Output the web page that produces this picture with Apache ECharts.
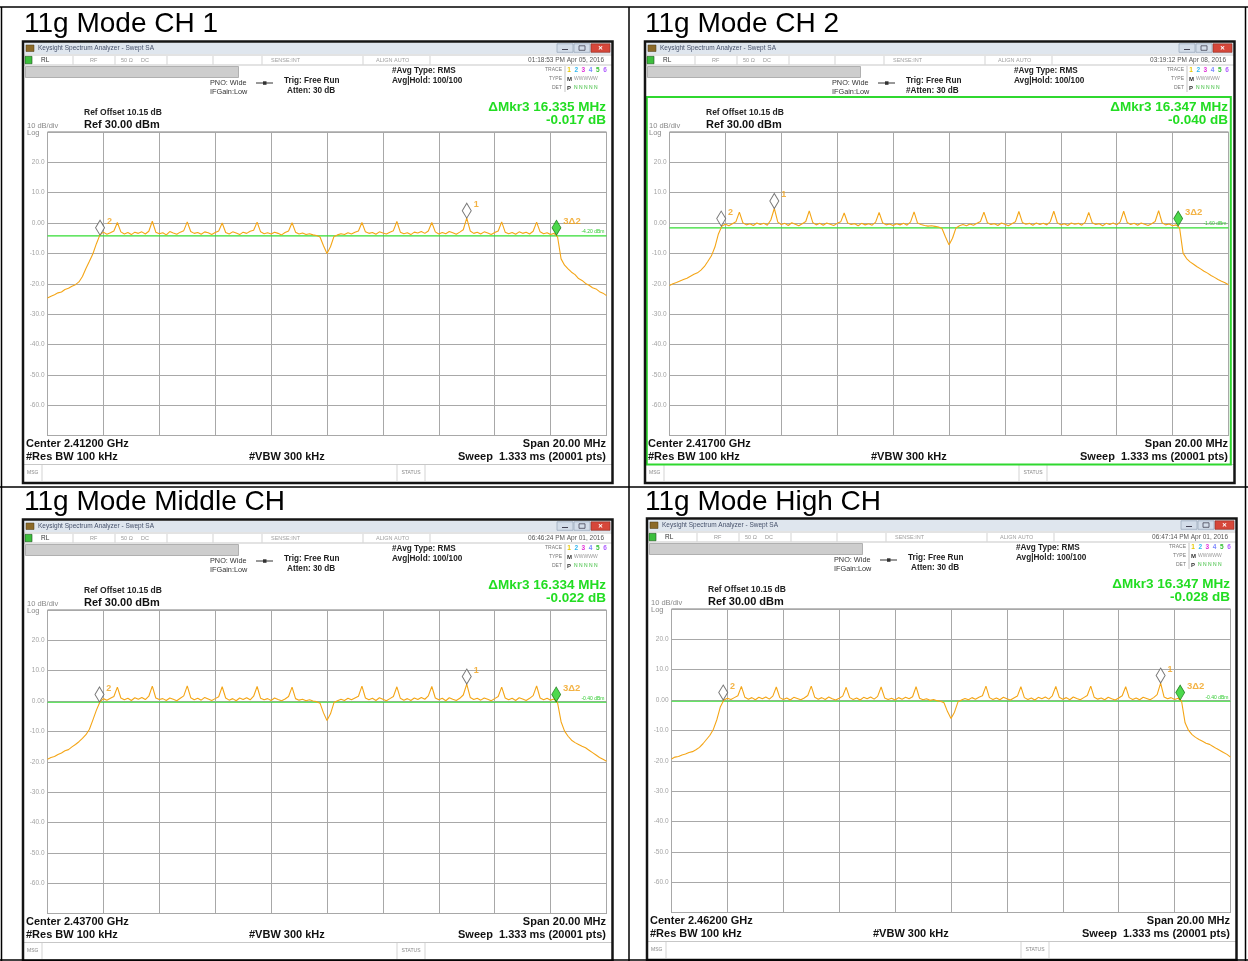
<!DOCTYPE html>
<html><head><meta charset="utf-8">
<script src="https://cdn.jsdelivr.net/npm/echarts@6/dist/echarts.min.js"></script>
<style>html,body{margin:0;padding:0;background:#fff}#c{width:1248px;height:961px}</style>
</head><body><div id="c"></div>
<script>
// ---------- DATA ----------
const panelTitles = ['11g Mode CH 1', '11g Mode CH 2', '11g Mode Middle CH', '11g Mode High CH'];
const centerLabels = ['Center 2.41200 GHz', 'Center 2.41700 GHz', 'Center 2.43700 GHz', 'Center 2.46200 GHz'];
const deltaFreqLabels = ['ΔMkr3 16.335 MHz', 'ΔMkr3 16.347 MHz', 'ΔMkr3 16.334 MHz', 'ΔMkr3 16.347 MHz'];
const deltaLevelLabels = ['-0.017 dB', '-0.040 dB', '-0.022 dB', '-0.028 dB'];
const timestamps = ['01:18:53 PM Apr 05, 2016', '03:19:12 PM Apr 08, 2016', '06:46:24 PM Apr 01, 2016', '06:47:14 PM Apr 01, 2016'];
const attenLabels = ['Atten: 30 dB', '#Atten: 30 dB', 'Atten: 30 dB', 'Atten: 30 dB'];
const markerNames = ['1', '2', '3Δ2'];

// frequency offset from center, MHz (span 20 MHz)
const freq = [
  -10,-9.875,-9.75,-9.625,-9.5,-9.375,-9.25,-9.125,
  -9,-8.875,-8.75,-8.625,-8.5,-8.375,-8.25,-8.125,
  -8,-7.875,-7.75,-7.625,-7.5,-7.375,-7.25,-7.125,
  -7,-6.875,-6.75,-6.625,-6.5,-6.375,-6.25,-6.125,
  -6,-5.875,-5.75,-5.625,-5.5,-5.375,-5.25,-5.125,
  -5,-4.875,-4.75,-4.625,-4.5,-4.375,-4.25,-4.125,
  -4,-3.875,-3.75,-3.625,-3.5,-3.375,-3.25,-3.125,
  -3,-2.875,-2.75,-2.625,-2.5,-2.375,-2.25,-2.125,
  -2,-1.875,-1.75,-1.625,-1.5,-1.375,-1.25,-1.125,
  -1,-0.875,-0.75,-0.625,-0.5,-0.375,-0.25,-0.125,
  0,0.125,0.25,0.375,0.5,0.625,0.75,0.875,
  1,1.125,1.25,1.375,1.5,1.625,1.75,1.875,
  2,2.125,2.25,2.375,2.5,2.625,2.75,2.875,
  3,3.125,3.25,3.375,3.5,3.625,3.75,3.875,
  4,4.125,4.25,4.375,4.5,4.625,4.75,4.875,
  5,5.125,5.25,5.375,5.5,5.625,5.75,5.875,
  6,6.125,6.25,6.375,6.5,6.625,6.75,6.875,
  7,7.125,7.25,7.375,7.5,7.625,7.75,7.875,
  8,8.125,8.25,8.375,8.5,8.625,8.75,8.875,
  9,9.125,9.25,9.375,9.5,9.625,9.75,9.875,
  10
];

// trace levels, dBm
const traceCH1 = [
  -24.7,-24.1,-23.6,-23.0,-22.7,-21.9,-21.5,-20.8,-20.3,-19.4,
  -17.6,-15.0,-12.6,-10.1,-6.8,-3.9,-3.0,-3.7,-3.2,-2.6,
  0.2,-2.9,-3.6,-3.1,-3.8,-3.0,-3.4,-2.9,-3.6,-2.7,
  0.6,-3.0,-3.5,-3.2,-3.9,-2.8,-3.3,-3.7,-3.0,-2.5,
  0.4,-2.8,-3.4,-3.1,-3.7,-2.9,-3.2,-3.8,-3.1,-2.6,
  0.0,-3.1,-3.6,-2.9,-3.3,-3.8,-3.0,-3.4,-2.7,-2.4,
  0.3,-2.9,-3.5,-3.2,-3.6,-3.0,-3.4,-3.9,-3.1,-2.6,
  0.1,-3.0,-3.6,-3.3,-3.8,-3.5,-3.9,-4.1,-4.6,-7.5,
  -10.0,-7.8,-4.4,-3.9,-3.5,-3.8,-3.2,-3.6,-3.0,-2.6,
  0.2,-2.9,-3.4,-3.1,-3.7,-2.9,-3.3,-3.6,-3.0,-2.5,
  0.5,-3.0,-3.5,-3.2,-3.8,-3.0,-3.3,-2.8,-3.4,-2.6,
  0.2,-2.9,-3.6,-3.1,-3.5,-2.8,-3.2,-3.7,-3.0,-2.2,
  1.6,-2.6,-3.4,-3.0,-3.6,-2.9,-3.3,-3.8,-3.1,-2.6,
  0.4,-3.0,-3.5,-3.1,-3.7,-2.9,-3.4,-3.0,-3.6,-2.7,
  0.3,-2.9,-3.5,-3.2,-3.8,-3.4,-4.6,-11.8,-13.9,-15.1,
  -16.2,-17.0,-18.3,-18.9,-19.9,-20.5,-21.3,-21.7,-22.6,-23.1,
  -23.9
];
const traceCH2 = [
  -20.6,-20.0,-19.6,-19.1,-18.6,-18.2,-17.5,-16.9,-16.4,-15.5,
  -14.3,-12.6,-10.8,-7.9,-3.6,-1.0,-0.4,-0.9,-0.2,0.4,
  3.6,0.1,-0.6,-0.2,-0.8,0.0,-0.5,-0.1,-0.7,1.0,
  4.8,0.3,-0.5,-0.1,-0.8,0.1,-0.4,-0.9,-0.2,0.5,
  4.0,0.2,-0.6,-0.1,-0.7,0.0,-0.4,-0.8,-0.1,0.4,
  3.3,0.0,-0.5,-0.2,-0.9,-0.1,-0.6,-0.2,-0.7,0.3,
  3.5,0.1,-0.6,-0.3,-0.8,-0.2,-0.6,-0.1,-0.7,0.4,
  3.7,0.0,-0.5,-0.8,-1.0,-0.9,-1.1,-1.3,-1.8,-4.6,
  -7.2,-5.0,-1.6,-0.9,-0.5,-0.9,-0.3,-0.7,-0.1,0.5,
  3.6,0.1,-0.5,-0.2,-0.8,0.0,-0.4,-0.9,-0.2,0.4,
  3.8,0.2,-0.4,-0.1,-0.7,0.0,-0.5,-0.1,-0.6,0.5,
  3.9,0.1,-0.6,-0.2,-0.8,0.0,-0.4,-0.1,-0.7,0.3,
  3.5,0.1,-0.5,-0.2,-0.9,-0.1,-0.5,0.0,-0.6,0.4,
  3.9,0.2,-0.5,-0.1,-0.7,0.0,-0.4,-0.8,-0.2,0.5,
  4.1,0.1,-0.6,-0.3,-0.9,-0.6,-1.6,-9.9,-11.7,-12.8,
  -13.6,-14.4,-15.1,-15.9,-16.5,-17.3,-17.9,-18.6,-19.2,-19.7,
  -20.3
];
const traceMid = [
  -19.2,-18.6,-18.3,-17.6,-17.1,-16.4,-16.0,-15.1,-14.3,-13.4,
  -12.3,-11.1,-9.3,-6.2,-3.0,-0.3,0.8,0.3,0.9,1.5,
  4.6,1.0,0.4,0.9,0.2,1.1,0.6,1.2,0.5,1.6,
  4.9,1.0,0.5,0.8,0.2,1.0,0.6,0.1,0.9,1.7,
  5.0,1.1,0.4,0.9,0.3,1.2,0.7,0.2,0.8,1.4,
  4.7,1.0,0.3,0.8,0.1,1.0,0.5,1.1,0.4,1.6,
  4.8,0.9,0.4,0.8,0.2,1.0,0.5,0.1,0.7,1.5,
  4.6,0.8,0.3,0.6,0.1,0.4,0.0,-0.2,-0.7,-3.9,
  -6.4,-4.2,-0.5,0.1,0.6,0.2,0.9,0.4,1.0,1.6,
  4.9,1.0,0.4,0.9,0.2,1.1,0.6,0.1,0.8,1.5,
  4.7,0.9,0.3,0.8,0.2,1.0,0.5,1.2,0.6,1.7,
  4.8,1.0,0.4,0.9,0.1,1.1,0.6,0.2,0.9,2.0,
  5.6,1.2,0.5,0.9,0.3,1.0,0.6,0.1,0.8,1.5,
  4.6,1.0,0.4,0.9,0.2,1.1,0.7,0.2,0.9,1.8,
  5.0,1.0,0.4,0.9,0.3,0.7,-0.6,-6.8,-9.9,-11.6,
  -12.9,-13.7,-14.3,-14.9,-15.4,-16.2,-17.0,-17.8,-18.6,-19.2,
  -19.8
];
const traceHigh = [
  -19.4,-18.8,-18.6,-18.1,-17.8,-17.3,-17.0,-16.4,-15.6,-14.4,
  -13.0,-11.6,-9.6,-6.4,-2.2,0.0,0.6,0.2,0.8,1.4,
  4.5,0.9,0.3,0.8,0.1,0.9,0.4,1.0,0.3,1.3,
  4.3,0.8,0.2,0.7,0.0,0.9,0.5,0.1,0.7,1.5,
  4.6,0.9,0.3,0.8,0.2,1.0,0.4,0.0,0.6,1.3,
  4.2,0.8,0.2,0.7,0.0,0.9,0.4,1.0,0.3,1.2,
  4.3,0.7,0.2,0.6,0.0,0.8,0.3,0.9,0.4,1.1,
  4.4,0.6,0.1,0.4,-0.1,0.2,-0.2,-0.4,-0.9,-3.8,
  -6.1,-4.0,-0.6,0.0,0.5,0.1,0.8,0.3,0.9,1.4,
  4.6,0.8,0.2,0.7,0.1,0.9,0.4,0.0,0.7,1.3,
  4.4,0.8,0.2,0.7,0.0,0.9,0.4,1.0,0.3,1.4,
  4.5,0.9,0.3,0.8,0.1,1.0,0.5,0.1,0.8,1.5,
  4.6,0.9,0.3,0.7,0.1,0.9,0.4,0.0,0.7,1.4,
  4.4,0.8,0.2,0.7,0.1,0.9,0.5,0.1,0.8,1.8,
  5.6,1.0,0.4,0.8,0.2,0.6,-0.4,-7.5,-10.0,-11.4,
  -12.3,-13.0,-13.6,-14.2,-14.6,-15.3,-16.0,-16.6,-17.3,-17.9,
  -18.8
];
const traces = [traceCH1, traceCH2, traceMid, traceHigh];

// markers 1, 2, 3 : frequency offset (MHz) and level (dBm)
const markerFreqCH1 = [5.0, -8.12, 8.21];
const markerLevelCH1 = [1.6, -4.0, -4.0];
const markerFreqCH2 = [-6.25, -8.15, 8.20];
const markerLevelCH2 = [4.8, -1.0, -1.0];
const markerFreqMid = [5.0, -8.14, 8.20];
const markerLevelMid = [5.6, -0.3, -0.3];
const markerFreqHigh = [7.5, -8.15, 8.20];
const markerLevelHigh = [5.6, 0.0, 0.0];
const markerFreqs = [markerFreqCH1, markerFreqCH2, markerFreqMid, markerFreqHigh];
const markerLevels = [markerLevelCH1, markerLevelCH2, markerLevelMid, markerLevelHigh];

// display line level (dBm)
const displayLine = [-4.2, -1.6, -0.4, -0.4];

// y axis (10 dB/div, ref 30 dBm)
const yMin = -70, yMax = 30, yStep = 10;
const xMin = -10, xMax = 10, xStep = 2;

// ---------- LAYOUT ----------
const origins = [[0, 0], [622, 0], [0, 478], [624, 477]];
const titlePos = [[24, 24], [645, 24], [24, 502], [645, 502]];
const FONT = '"Liberation Sans", Arial, Helvetica, sans-serif';
const fnt = (s, b) => (b ? 'bold ' : '') + s + 'px ' + FONT;

const graphics = [];
function T(x, y, t, font, fill, align, z) {
  graphics.push({type: 'text', x, y, z: z || 10, silent: true,
    style: {text: t, font, fill, textAlign: align || 'left', align: align || 'left',
            textVerticalAlign: 'middle', verticalAlign: 'middle'}});
}
function R(x, y, w, h, fill, stroke, lw, z) {
  graphics.push({type: 'rect', z: z || 5, silent: true, shape: {x, y, width: w, height: h},
    style: {fill: fill || 'none', stroke: stroke || 'none', lineWidth: lw || 1}});
}
function L(x1, y1, x2, y2, stroke, lw, z) {
  graphics.push({type: 'line', z: z || 6, silent: true, shape: {x1, y1, x2, y2},
    style: {stroke, lineWidth: lw || 1}});
}

// table lines
L(0, 7, 1248, 7, '#000', 1.5, 20);
L(0, 487, 1248, 487, '#000', 1.5, 20);
L(0, 960, 1248, 960, '#000', 1.5, 20);
L(1.5, 7, 1.5, 961, '#000', 1.5, 20);
L(629, 7, 629, 961, '#000', 1.5, 20);
L(1245.5, 7, 1245.5, 961, '#000', 1.5, 20);

panelTitles.forEach((t, p) => T(titlePos[p][0], titlePos[p][1], t, fnt(28), '#000'));

const traceDigitColors = ['#e8c800', '#30b8f0', '#e030d8', '#7a86ff', '#34c034', '#b060ff'];

function panelChrome(p) {
  const [ox, oy] = origins[p];
  const X = v => ox + v, Y = v => oy + v;
  // window frame
  R(X(24.3), Y(42.8), 587, 11.2, '#dfe6ee', null, 1, 4);
  R(X(23), Y(41.5), 589.5, 441.5, 'none', '#141414', 2.5, 8);
  // title bar
  R(X(26), Y(45), 8, 6.5, '#8c6a28', '#4a3a10', 0.5);
  T(X(38), Y(48.5), 'Keysight Spectrum Analyzer - Swept SA', fnt(6.5), '#45506a');
  R(X(557), Y(43.8), 16, 8.5, '#d3dde9', '#8a9bb0', 0.6);
  R(X(574), Y(43.8), 16, 8.5, '#d3dde9', '#8a9bb0', 0.6);
  R(X(591), Y(43.8), 19, 8.5, '#d6473a', '#8a2a20', 0.6);
  L(X(562), Y(49.5), X(568), Y(49.5), '#445', 1);
  R(X(579), Y(45.8), 6, 4.5, 'none', '#445', 0.8);
  T(X(600.5), Y(48.2), '✕', fnt(6, true), '#fff', 'center');
  // status row
  L(X(24), Y(55), X(612), Y(55), '#b9b9b9', 0.8);
  L(X(24), Y(65), X(612), Y(65), '#b9b9b9', 0.8);
  R(X(25), Y(56.3), 7, 7.5, '#3cbf3c', '#1f4f1f', 0.6);
  T(X(41), Y(60.2), 'RL', fnt(6.5), '#333');
  [73, 115, 167, 213, 262, 363, 430].forEach(x => L(X(x), Y(56), X(x), Y(64.5), '#c8c8c8', 0.8));
  T(X(90), Y(60.2), 'RF', fnt(5.5), '#999');
  T(X(121), Y(60.2), '50 Ω', fnt(5.5), '#999');
  T(X(141), Y(60.2), 'DC', fnt(5.5), '#999');
  T(X(271), Y(60.2), 'SENSE:INT', fnt(5.5), '#a0a0a0');
  T(X(376), Y(60.2), 'ALIGN AUTO', fnt(5.5), '#a0a0a0');
  T(X(604), Y(60.2), timestamps[p], fnt(6.5), '#555', 'right');
  // message bar
  R(X(25.5), Y(66.5), 213, 11, '#cdcdcd', '#a2a2a2', 0.8);
  // settings
  T(X(210), Y(83), 'PNO: Wide', fnt(7.3), '#333');
  T(X(210), Y(92), 'IFGain:Low', fnt(7.3), '#333');
  L(X(256), Y(83), X(273), Y(83), '#333', 1);
  R(X(263), Y(81.3), 3.5, 3.5, '#333', null, 1);
  T(X(284), Y(80.5), 'Trig: Free Run', fnt(8.2, true), '#222');
  T(X(p === 1 ? 284 : 287), Y(91), attenLabels[p], fnt(8.2, true), '#222');
  T(X(392), Y(70.5), '#Avg Type: RMS', fnt(8.2, true), '#222');
  T(X(392), Y(81), 'Avg|Hold: 100/100', fnt(8.2, true), '#222');
  T(X(562), Y(70), 'TRACE', fnt(5), '#777', 'right');
  T(X(562), Y(79), 'TYPE', fnt(5), '#777', 'right');
  T(X(562), Y(88), 'DET', fnt(5), '#777', 'right');
  L(X(565), Y(66), X(565), Y(92), '#aaa', 0.7);
  traceDigitColors.forEach((c, k) => T(X(569 + k * 7.2), Y(70), String(k + 1), fnt(6.5, true), c, 'center'));
  T(X(567), Y(79), 'M', fnt(6, true), '#333');
  T(X(574), Y(79), 'WWWWW', fnt(5), '#999');
  T(X(567), Y(88), 'P', fnt(6, true), '#333');
  T(X(574), Y(88), 'N N N N N', fnt(5), '#33bb33');
  // reference info
  T(X(84), Y(113), 'Ref Offset 10.15 dB', fnt(8.5, true), '#222');
  T(X(84), Y(124.5), 'Ref 30.00 dBm', fnt(11, true), '#111');
  T(X(27), Y(126), '10 dB/div', fnt(7.5), '#8a8a8a');
  T(X(27), Y(132.5), 'Log', fnt(7.5), '#8a8a8a');
  // marker readout
  T(X(606), Y(107), deltaFreqLabels[p], fnt(13.5, true), '#22dd22', 'right');
  T(X(606), Y(120.5), deltaLevelLabels[p], fnt(13.5, true), '#22dd22', 'right');
  // bottom annotations
  T(X(26), Y(443.5), centerLabels[p], fnt(11, true), '#111');
  T(X(26), Y(456.5), '#Res BW 100 kHz', fnt(11, true), '#111');
  T(X(249), Y(456.5), '#VBW 300 kHz', fnt(11, true), '#111');
  T(X(606), Y(443.5), 'Span 20.00 MHz', fnt(11, true), '#111', 'right');
  T(X(606), Y(456.5), 'Sweep  1.333 ms (20001 pts)', fnt(11, true), '#111', 'right');
  // MSG / STATUS bar
  L(X(24), Y(464.5), X(612), Y(464.5), '#b9b9b9', 0.8);
  L(X(42), Y(465), X(42), Y(481), '#c8c8c8', 0.8);
  L(X(397), Y(465), X(397), Y(481), '#c8c8c8', 0.8);
  L(X(425), Y(465), X(425), Y(481), '#c8c8c8', 0.8);
  T(X(27), Y(473), 'MSG', fnt(5), '#888');
  T(X(411), Y(473), 'STATUS', fnt(5), '#888', 'center');
  if (p === 1) R(X(24.8), Y(97), 584, 367.5, 'none', '#2fd82f', 2, 7);
}
[0, 1, 2, 3].forEach(panelChrome);

// ---------- CHART ----------
const grids = [], xAxes = [], yAxes = [], series = [];
origins.forEach(([ox, oy], p) => {
  grids.push({left: ox + 47.5, top: oy + 132, width: 559, height: 303.5, show: true,
              borderColor: '#7b7b7b', borderWidth: 1, backgroundColor: 'rgba(0,0,0,0)'});
  xAxes.push({type: 'value', gridIndex: p, min: xMin, max: xMax, interval: xStep,
    axisLine: {show: false}, axisTick: {show: false}, axisLabel: {show: false},
    splitLine: {show: true, lineStyle: {color: '#a8a8a8', width: 1}}});
  yAxes.push({type: 'value', gridIndex: p, min: yMin, max: yMax, interval: yStep,
    axisLine: {show: false}, axisTick: {show: false},
    axisLabel: {color: '#a3a3a3', fontSize: 6.5, fontFamily: FONT, margin: 3,
      formatter: v => (v === yMax || v === yMin) ? '' : (v === 0 ? '0.00' : v.toFixed(1))},
    splitLine: {show: true, lineStyle: {color: '#a8a8a8', width: 1}}});
  // display line
  series.push({type: 'line', xAxisIndex: p, yAxisIndex: p, silent: true, z: 2,
    data: [[xMin, displayLine[p]], [xMax, displayLine[p]]], symbol: 'none',
    lineStyle: {color: '#33dd33', width: 1.2},
    endLabel: {show: true, formatter: () => displayLine[p].toFixed(2) + ' dBm', color: '#33cc33',
               fontSize: 5, fontFamily: FONT, align: 'right', distance: -2, offset: [0, -4]}});
  // trace
  const tr = traces[p];
  series.push({type: 'line', xAxisIndex: p, yAxisIndex: p, silent: true, z: 3,
    data: freq.map((f, i) => [f, tr[i]]), symbol: 'none', showSymbol: false,
    lineStyle: {color: '#f4a516', width: 1.1}});
  // markers
  series.push({type: 'scatter', xAxisIndex: p, yAxisIndex: p, silent: true, z: 5,
    symbol: 'diamond', symbolSize: [9, 15], symbolOffset: [0, '-50%'],
    data: markerFreqs[p].map((f, k) => ({
      value: [f, markerLevels[p][k]],
      itemStyle: k === 2 ? {color: '#20cf20', borderColor: '#0f6f0f', borderWidth: 0.8}
                         : {color: '#ffffff', borderColor: '#555', borderWidth: 1},
      label: {show: true, formatter: markerNames[k], position: 'right', distance: 2,
              offset: [0, -6], color: '#f0a018', fontSize: k === 2 ? 9.5 : 9, fontFamily: FONT,
              fontWeight: 'bold'}
    }))});
});

const chart = echarts.init(document.getElementById('c'), null, {renderer: 'canvas', width: 1248, height: 961});
chart.setOption({
  animation: false,
  backgroundColor: '#ffffff',
  textStyle: {fontFamily: FONT},
  grid: grids, xAxis: xAxes, yAxis: yAxes, series,
  graphic: {elements: graphics}
});
</script>
</body></html>
